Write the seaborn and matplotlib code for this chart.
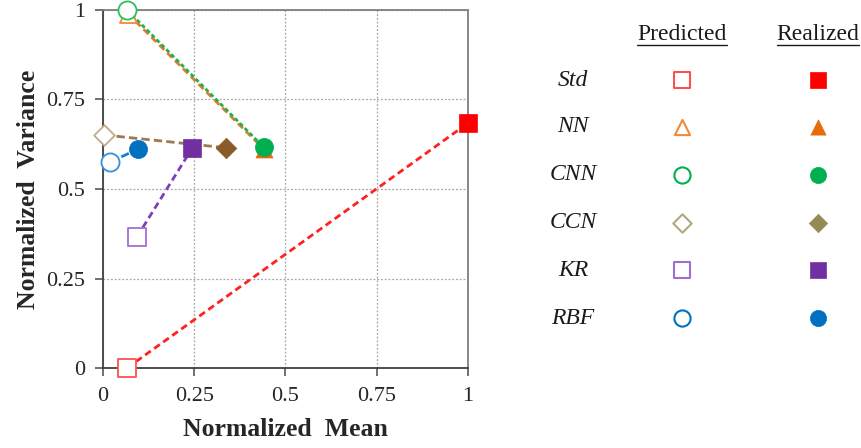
import matplotlib
matplotlib.use("Agg")
import matplotlib.pyplot as plt
import seaborn as sns
import pandas as pd

sns.set_theme(style="white")
plt.rcParams["font.family"] = ["Liberation Serif", "DejaVu Serif"]

# Normalized mean / variance of each model: predicted vs realized
models = ["Std", "NN", "CNN", "CCN", "KR", "RBF"]
pred_mean = [0.066, 0.068, 0.066, 0.003, 0.093, 0.019]
pred_var = [0.0, 0.99, 1.0, 0.651, 0.366, 0.575]
real_mean = [1.0, 0.44, 0.44, 0.338, 0.245, 0.097]
real_var = [0.684, 0.612, 0.617, 0.615, 0.615, 0.612]

markers = ["s", "^", "o", "D", "s", "o"]
line_colors = ["#FF2020", "#E97A2C", "#22B14C", "#A07850", "#7E3FB8", "#1E7FD0"]
pred_colors = ["#FF5050", "#F08A3C", "#2DBE5E", "#C2A98A", "#9F6FCF", "#3A8FDA"]
real_colors = ["#FF0000", "#E46C0A", "#00B050", "#8B5A2B", "#7030A0", "#0070C0"]
legend_real_colors = ["#FF0000", "#E46C0A", "#00B050", "#948A54", "#7030A0", "#0070C0"]
legend_pred_colors = ["#FF5050", "#F08A3C", "#00B050", "#B3A77E", "#9F6FCF", "#0070C0"]
sizes = [150, 150, 170, 110, 150, 170]
line_styles = [(0, (2.5, 1.5)), (0, (2.5, 1.5)), (0, (1.5, 1.0)), (0, (3, 1.5)), (0, (2.5, 1.5)), (0, (3, 1.5))]

ticks = [0, 0.25, 0.5, 0.75, 1]
tick_labels = ["0", "0.25", "0.5", "0.75", "1"]

df = pd.DataFrame({
    "model": models,
    "pred_mean": pred_mean, "pred_var": pred_var,
    "real_mean": real_mean, "real_var": real_var,
})

fig = plt.figure(figsize=(8.62, 4.48), dpi=100)
ax = fig.add_axes([103 / 862, 80 / 448, 365 / 862, 358 / 448])

for i, row in df.iterrows():
    ax.plot([row.pred_mean, row.real_mean], [row.pred_var, row.real_var],
            color=line_colors[i], lw=2.0, linestyle=line_styles[i], zorder=2)

for i, row in df.iterrows():
    sub = df.iloc[[i]]
    sns.scatterplot(data=sub, x="pred_mean", y="pred_var", ax=ax, marker=markers[i],
                    s=sizes[i], facecolor="white", edgecolor=pred_colors[i],
                    linewidth=1.3, zorder=4, clip_on=False, legend=False)
    sns.scatterplot(data=sub, x="real_mean", y="real_var", ax=ax, marker=markers[i],
                    s=sizes[i], color=real_colors[i], edgecolor=real_colors[i],
                    linewidth=0.5, zorder=5, clip_on=False, legend=False)

ax.set_xlim(0, 1)
ax.set_ylim(0, 1)
ax.set_xticks(ticks)
ax.set_yticks(ticks)
ax.set_xticklabels(tick_labels)
ax.set_yticklabels(tick_labels)
ax.tick_params(axis="both", labelsize=16, direction="out", length=6, width=1.2,
               color="#595959", left=True, bottom=True)
ax.tick_params(axis="x", pad=8)
ax.tick_params(axis="y", pad=7)
ax.grid(True, color="#A6A6A6", linestyle=(0, (1.5, 1.5)), linewidth=0.9)
for sp in ax.spines.values():
    sp.set_color("#7F7F7F")
    sp.set_linewidth(1.3)
ax.spines["left"].set_color("#404040")
ax.spines["bottom"].set_color("#404040")
ax.set_xlabel("Normalized  Mean", fontsize=18.5, fontweight="bold", labelpad=8)
ax.set_ylabel("Normalized  Variance", fontsize=18.5, fontweight="bold", labelpad=4)

# Key table on the right
lax = fig.add_axes([0, 0, 1, 1])
lax.set_xlim(0, 862)
lax.set_ylim(448, 0)
lax.axis("off")
name_x, pred_x, real_x = 573, 682, 818
row_y = [80, 127, 175, 223, 270, 318]
for text, x in (("Predicted", pred_x), ("Realized", real_x)):
    t = lax.text(x, 34, text, fontsize=17, ha="center", va="center", color="#1a1a1a")
    fig.canvas.draw()
    bb = t.get_window_extent().transformed(lax.transData.inverted())
    lax.plot([bb.x0, bb.x1], [45, 45], color="#1a1a1a", lw=1.0)

key = pd.DataFrame({"x_pred": [pred_x] * 6, "x_real": [real_x] * 6, "y": row_y})
for i in range(len(models)):
    lax.text(name_x, row_y[i], models[i], fontsize=17, style="italic",
             ha="center", va="center", color="#1a1a1a")
    sub = key.iloc[[i]]
    sns.scatterplot(data=sub, x="x_pred", y="y", ax=lax, marker=markers[i],
                    s=sizes[i] * 0.8, facecolor="white", edgecolor=legend_pred_colors[i],
                    linewidth=1.5, legend=False)
    sns.scatterplot(data=sub, x="x_real", y="y", ax=lax, marker=markers[i],
                    s=sizes[i] * 0.8, color=legend_real_colors[i],
                    edgecolor=legend_real_colors[i], linewidth=0.5, legend=False)
lax.set_xlabel("")
lax.set_ylabel("")

fig.savefig("out.png", dpi=100)
